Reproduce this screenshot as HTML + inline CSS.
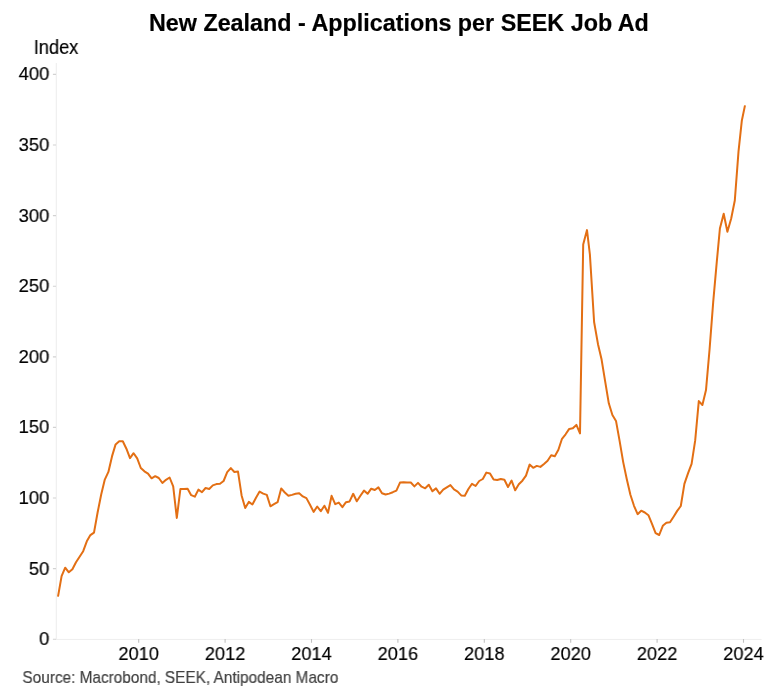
<!DOCTYPE html>
<html><head><meta charset="utf-8">
<style>
html,body{margin:0;padding:0;background:#fff;}
body{width:780px;height:698px;overflow:hidden;position:relative;font-family:"Liberation Sans",sans-serif;color:#000;}
.t{position:absolute;white-space:nowrap;line-height:1;will-change:transform;-webkit-text-stroke:0.18px currentColor;}
svg{position:absolute;left:0;top:0;}
</style></head><body>
<div class="t " style="left:98px;top:12px;width:600px;text-align:center;font-size:23.33px;transform:translate(0.90px,0.00px) scaleX(1.0);transform-origin:50% 50%;font-weight:bold;">New Zealand - Applications per SEEK Job Ad</div>
<div class="t " style="left:33px;top:37px;width:100px;text-align:left;font-size:20.1px;transform:translate(0.80px,0.00px) scaleX(0.907);transform-origin:0 50%;">Index</div>
<div class="t " style="left:-11px;top:630px;width:60px;text-align:right;font-size:18.9px;transform:translate(0.30px,0.00px) scaleX(0.975);transform-origin:100% 50%;">0</div>
<div class="t " style="left:-11px;top:560px;width:60px;text-align:right;font-size:18.9px;transform:translate(0.30px,0.00px) scaleX(0.975);transform-origin:100% 50%;">50</div>
<div class="t " style="left:-11px;top:489px;width:60px;text-align:right;font-size:18.9px;transform:translate(0.30px,0.00px) scaleX(0.975);transform-origin:100% 50%;">100</div>
<div class="t " style="left:-11px;top:418px;width:60px;text-align:right;font-size:18.9px;transform:translate(0.30px,0.00px) scaleX(0.975);transform-origin:100% 50%;">150</div>
<div class="t " style="left:-11px;top:348px;width:60px;text-align:right;font-size:18.9px;transform:translate(0.30px,0.00px) scaleX(0.975);transform-origin:100% 50%;">200</div>
<div class="t " style="left:-11px;top:277px;width:60px;text-align:right;font-size:18.9px;transform:translate(0.30px,0.00px) scaleX(0.975);transform-origin:100% 50%;">250</div>
<div class="t " style="left:-11px;top:207px;width:60px;text-align:right;font-size:18.9px;transform:translate(0.30px,0.00px) scaleX(0.975);transform-origin:100% 50%;">300</div>
<div class="t " style="left:-11px;top:136px;width:60px;text-align:right;font-size:18.9px;transform:translate(0.30px,0.00px) scaleX(0.975);transform-origin:100% 50%;">350</div>
<div class="t " style="left:-11px;top:65px;width:60px;text-align:right;font-size:18.9px;transform:translate(0.30px,0.00px) scaleX(0.975);transform-origin:100% 50%;">400</div>
<div class="t " style="left:108px;top:645px;width:60px;text-align:center;font-size:18.8px;transform:translate(0.70px,0.00px) scaleX(0.966);transform-origin:50% 50%;">2010</div>
<div class="t " style="left:195px;top:645px;width:60px;text-align:center;font-size:18.8px;transform:translate(0.10px,0.00px) scaleX(0.966);transform-origin:50% 50%;">2012</div>
<div class="t " style="left:281px;top:645px;width:60px;text-align:center;font-size:18.8px;transform:translate(0.50px,0.00px) scaleX(0.966);transform-origin:50% 50%;">2014</div>
<div class="t " style="left:367px;top:645px;width:60px;text-align:center;font-size:18.8px;transform:translate(0.90px,0.00px) scaleX(0.966);transform-origin:50% 50%;">2016</div>
<div class="t " style="left:454px;top:645px;width:60px;text-align:center;font-size:18.8px;transform:translate(0.30px,0.00px) scaleX(0.966);transform-origin:50% 50%;">2018</div>
<div class="t " style="left:540px;top:645px;width:60px;text-align:center;font-size:18.8px;transform:translate(0.70px,0.00px) scaleX(0.966);transform-origin:50% 50%;">2020</div>
<div class="t " style="left:627px;top:645px;width:60px;text-align:center;font-size:18.8px;transform:translate(0.10px,0.00px) scaleX(0.966);transform-origin:50% 50%;">2022</div>
<div class="t " style="left:713px;top:645px;width:60px;text-align:center;font-size:18.8px;transform:translate(0.50px,0.00px) scaleX(0.966);transform-origin:50% 50%;">2024</div>
<div class="t " style="left:22px;top:670px;width:400px;text-align:left;font-size:15.7px;transform:translate(0.40px,0.00px) scaleX(0.979);transform-origin:0 50%;color:#404040;">Source: Macrobond, SEEK, Antipodean Macro</div>
<svg width="780" height="698" viewBox="0 0 780 698">
<path id="axes" stroke="#eeeeee" stroke-width="1.1" fill="none" d="M56.3 63V639.9"/>
<path id="xaxis" stroke="#efefef" stroke-width="1" fill="none" d="M55.8 639.45H761.6"/>
<path id="yticks" stroke="#d2d2d2" stroke-width="1.15" fill="none" d="M52.9 639.20H56M52.9 568.60H56M52.9 498.00H56M52.9 427.40H56M52.9 356.80H56M52.9 286.20H56M52.9 215.60H56M52.9 145.00H56M52.9 74.40H56"/>
<path id="xticks" stroke="#c2c2c2" stroke-width="1.1" fill="none" d="M138.70 639V642.7M225.10 639V642.7M311.50 639V642.7M397.90 639V642.7M484.30 639V642.7M570.70 639V642.7M657.10 639V642.7M743.50 639V642.7"/>
<path id="line" fill="none" stroke="#e36f14" stroke-width="2.0" stroke-linejoin="round" stroke-linecap="butt" d="M58.0 596.7 L61.6 576.1 L65.2 567.7 L68.8 572.3 L72.4 569.3 L76.0 562.3 L79.6 556.7 L83.2 551.2 L86.8 541.3 L90.4 535.1 L94.0 532.6 L97.6 512.5 L101.2 494.5 L104.8 479.6 L108.4 471.9 L112.0 456.4 L115.6 444.4 L119.2 441.3 L122.8 441.3 L126.4 448.7 L130.0 458.1 L133.6 453.2 L137.2 458.4 L140.8 468.0 L144.4 471.3 L148.0 473.6 L151.6 478.3 L155.2 476.2 L158.8 478.0 L162.4 483.0 L166.0 479.8 L169.6 477.5 L173.2 486.4 L176.8 518.0 L180.4 489.0 L184.0 489.0 L187.6 488.7 L191.2 495.2 L194.8 496.7 L198.4 489.6 L202.0 492.2 L205.6 488.0 L209.2 489.0 L212.8 485.4 L216.4 484.1 L220.0 483.8 L223.6 481.0 L227.2 472.2 L230.8 468.1 L234.4 472.0 L238.0 471.6 L241.6 495.4 L245.2 508.1 L248.8 501.9 L252.4 504.5 L256.0 497.8 L259.6 491.6 L263.2 493.6 L266.8 494.9 L270.4 506.3 L274.0 504.2 L277.6 502.2 L281.2 488.4 L284.8 492.5 L288.4 495.8 L292.0 494.9 L295.6 493.8 L299.2 493.2 L302.8 496.4 L306.4 498.1 L310.0 504.8 L313.6 511.9 L317.2 506.5 L320.8 511.2 L324.4 505.7 L328.0 512.8 L331.6 495.8 L335.2 504.2 L338.8 502.6 L342.4 507.1 L346.0 502.2 L349.6 501.4 L353.2 493.8 L356.8 501.3 L360.4 495.8 L364.0 490.6 L367.6 493.8 L371.2 488.7 L374.8 490.0 L378.4 487.4 L382.0 493.2 L385.6 494.5 L389.2 493.6 L392.8 492.2 L396.4 490.6 L400.0 482.6 L403.6 482.2 L407.2 482.5 L410.8 482.5 L414.4 486.4 L418.0 482.9 L421.6 486.7 L425.2 488.3 L428.8 484.8 L432.4 491.3 L436.0 488.4 L439.6 493.8 L443.2 489.6 L446.8 487.3 L450.4 485.1 L454.0 489.4 L457.6 491.6 L461.2 495.4 L464.8 495.8 L468.4 489.0 L472.0 483.8 L475.6 486.0 L479.2 481.0 L482.8 479.0 L486.4 472.6 L490.0 473.5 L493.6 479.6 L497.2 480.0 L500.8 479.0 L504.4 479.7 L508.0 487.0 L511.6 480.6 L515.2 490.3 L518.8 484.3 L522.4 480.7 L526.0 475.6 L529.6 464.6 L533.2 467.8 L536.8 465.9 L540.4 466.9 L544.0 464.0 L547.6 460.8 L551.2 455.3 L554.8 456.2 L558.4 449.8 L562.0 438.8 L565.6 434.3 L569.2 428.9 L572.8 428.3 L576.4 424.9 L580.0 433.4 L583.2 244.5 L587.0 230.1 L589.9 254.5 L594.1 322.0 L598.0 344.2 L601.6 359.6 L605.2 381.6 L608.8 403.3 L612.4 415.0 L616.0 420.9 L619.6 440.9 L623.2 462.1 L626.8 479.2 L630.4 494.8 L634.0 505.8 L637.6 514.2 L641.2 510.7 L644.8 512.5 L648.4 515.2 L652.0 523.8 L655.6 533.1 L659.2 535.0 L662.8 525.8 L666.4 522.8 L670.0 522.3 L673.6 516.7 L677.2 510.9 L680.8 506.0 L684.4 483.9 L688.0 473.4 L691.6 463.8 L695.2 440.4 L698.8 401.1 L702.4 405.0 L706.0 390.1 L709.6 349.0 L713.2 302.2 L716.8 261.7 L719.9 228.5 L723.7 213.8 L727.4 231.8 L731.2 218.5 L734.8 200.5 L738.5 151.7 L741.8 120.8 L745.0 105.4"/>
</svg>
</body></html>
